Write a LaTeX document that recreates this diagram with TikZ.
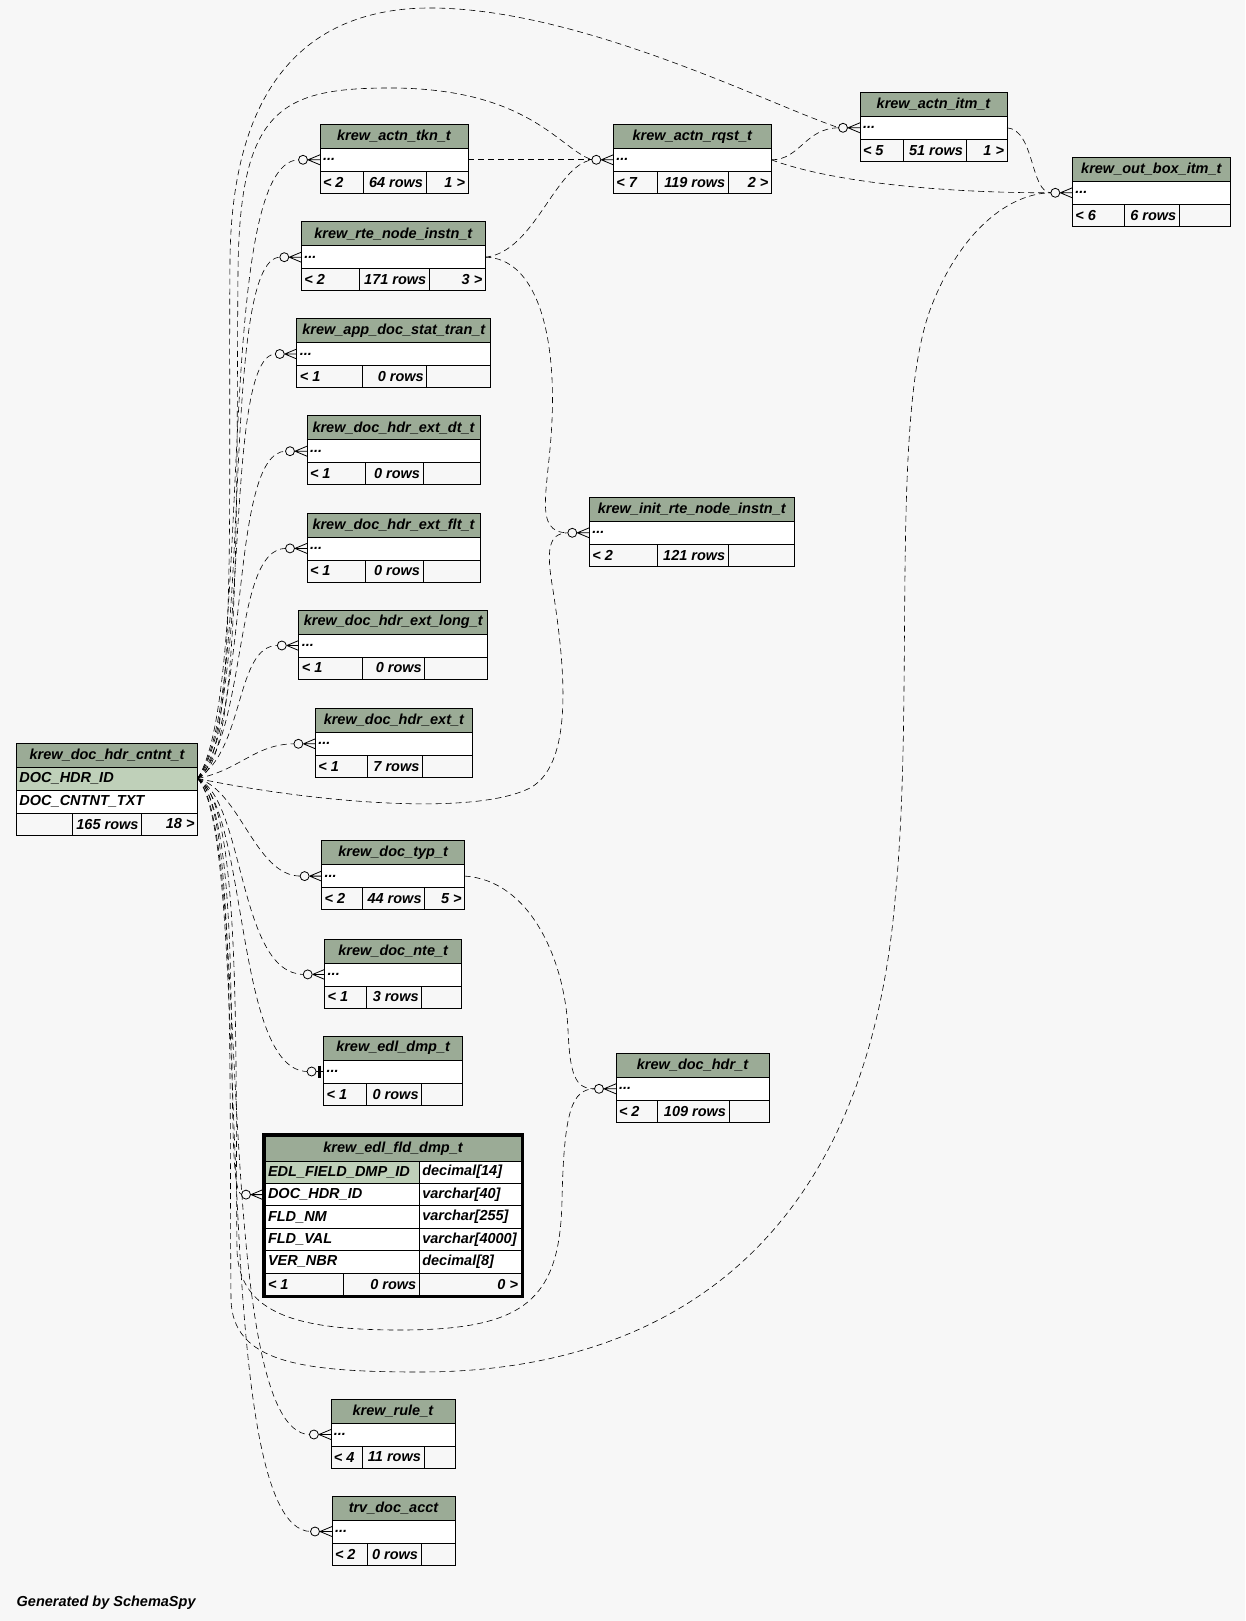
\documentclass[tikz,border=0pt]{standalone}
\usepackage{fontspec}
\setmainfont{Liberation Sans}
\usepackage{xcolor}
\definecolor{bgcol}{HTML}{F7F7F7}
\definecolor{headcol}{HTML}{9BAB96}
\definecolor{keycol}{HTML}{BFD0B9}

% one table: name, top left, width, title, footer dividers, footer texts
\newcommand{\erdtable}[9]{%
  \begin{scope}[shift={(#2)}]
    \node[tblhead, minimum width=#3] (#1-h) at (0,0) {#4};
    \node[tblrow, minimum width=#3] (#1-r) at (0,24) {};
    \node[tbltxt, anchor=west] (#1-dots) at (#1-r.west) {...};
    \node[tblfoot, minimum width=#5] (#1-fa) at (0,47) {};
    \node[tblfoot, minimum width=#6-#5] (#1-fb) at (#5,47) {};
    \node[tblfoot, minimum width=#3-#6] (#1-fc) at (#6,47) {};
    \node[tbltxt, anchor=west] (#1-la) at (#1-fa.west) {#7};
    \node[tbltxt, anchor=east] (#1-lb) at (#1-fb.east) {#8};
    \node[tbltxt, anchor=east] (#1-lc) at (#1-fc.east) {#9};
  \end{scope}}

\begin{document}
\begin{tikzpicture}[x=1pt, y=-1pt,
  tbltxt/.style={font=\fontsize{14.5}{17}\selectfont\bfseries\itshape, inner sep=3pt, outer sep=0pt},
  cell/.style={draw, line width=0.8pt, tbltxt, inner sep=0pt, anchor=north west},
  tblhead/.style={cell, fill=headcol, minimum height=24},
  tblrow/.style={cell, fill=white, minimum height=23},
  tblkey/.style={cell, fill=keycol, minimum height=23},
  tblfoot/.style={cell, fill=bgcol, minimum height=22},
  fk/.style={line width=0.6pt, dash pattern=on 6pt off 4pt},
  crowodot/.pic={
    \draw[line width=0.8pt] (-12,0) -- (0,-5) (-12,0) -- (0,0) (-12,0) -- (0,5);
    \draw[line width=0.8pt, fill=bgcol] (-17,0) circle (4.5);
  },
  zeroone/.pic={
    \draw[line width=0.8pt] (-8,0) -- (0,0);
    \draw[line width=2.5pt] (-4,-6) -- (-4,6);
    \draw[line width=0.8pt, fill=bgcol] (-12,0) circle (4.5);
  }
]
  \fill[bgcol] (0,0) rectangle (1245,1621);
  \useasboundingbox (0,0) rectangle (1245,1621);

  % Hub table on the left
  \node[tblhead, minimum width=181] (cntnt-h) at (16.5,743) {krew\_doc\_hdr\_cntnt\_t};
  \node[tblkey, minimum width=181] (cntnt-k) at (16.5,767) {};
  \node[tbltxt, anchor=west] (cntnt-kt) at (cntnt-k.west) {DOC\_HDR\_ID};
  \node[tblrow, minimum width=181] (cntnt-c) at (16.5,790) {};
  \node[tbltxt, anchor=west] (cntnt-ct) at (cntnt-c.west) {DOC\_CNTNT\_TXT};
  \node[tblfoot, minimum width=56] (cntnt-fa) at (16.5,813) {};
  \node[tblfoot, minimum width=69] (cntnt-fb) at (72.5,813) {};
  \node[tblfoot, minimum width=56] (cntnt-fc) at (141.5,813) {};
  \node[tbltxt, anchor=east] (cntnt-lb) at (cntnt-fb.east) {165 rows};
  \node[tbltxt, anchor=east] (cntnt-lc) at (cntnt-fc.east) {18 >};

  % Tables at the top
  \erdtable{tkn}{320,124.3}{148}{krew\_actn\_tkn\_t}{43}{106}{< 2}{64 rows}{1 >}
  \erdtable{rqst}{613.3,124.3}{158}{krew\_actn\_rqst\_t}{44}{115}{< 7}{119 rows}{2 >}
  \erdtable{itm}{860,92.3}{147}{krew\_actn\_itm\_t}{43}{106}{< 5}{51 rows}{1 >}
  \erdtable{outbox}{1072.3,157.3}{158}{krew\_out\_box\_itm\_t}{52}{107}{< 6}{6 rows}{}

  % Middle column
  \erdtable{rte}{301.3,221.7}{184}{krew\_rte\_node\_instn\_t}{58}{128}{< 2}{171 rows}{3 >}
  \erdtable{stat}{296.8,318.5}{194}{krew\_app\_doc\_stat\_tran\_t}{66}{130}{< 1}{0 rows}{}
  \erdtable{extdt}{307,415.7}{173}{krew\_doc\_hdr\_ext\_dt\_t}{58}{116}{< 1}{0 rows}{}
  \erdtable{extflt}{307,512.9}{173}{krew\_doc\_hdr\_ext\_flt\_t}{58}{116}{< 1}{0 rows}{}
  \erdtable{extlong}{298.8,610}{189}{krew\_doc\_hdr\_ext\_long\_t}{64}{126}{< 1}{0 rows}{}
  \erdtable{ext}{315.4,708.3}{157}{krew\_doc\_hdr\_ext\_t}{52}{107}{< 1}{7 rows}{}
  \erdtable{doctyp}{321.6,840.6}{143}{krew\_doc\_typ\_t}{41}{103}{< 2}{44 rows}{5 >}
  \erdtable{docnte}{324.7,938.9}{137}{krew\_doc\_nte\_t}{42}{97}{< 1}{3 rows}{}
  \erdtable{edldmp}{323.6,1036}{139}{krew\_edl\_dmp\_t}{43}{98}{< 1}{0 rows}{}
  \erdtable{rule}{330.9,1399}{124}{krew\_rule\_t}{31}{93}{< 4}{11 rows}{}
  \erdtable{trv}{332,1496}{123}{trv\_doc\_acct}{35}{89}{< 2}{0 rows}{}

  % Right column
  \erdtable{initrte}{589.3,497.3}{205}{krew\_init\_rte\_node\_instn\_t}{68}{139}{< 2}{121 rows}{}
  \erdtable{dochdr}{616,1053.3}{153}{krew\_doc\_hdr\_t}{41}{113}{< 2}{109 rows}{}

  % The one table shown with its columns
  \node[tblhead, minimum width=256, minimum height=25] (fld-h) at (265,1136) {krew\_edl\_fld\_dmp\_t};
  \node[tblkey, minimum width=154.3, minimum height=22.4] (fld-k) at (265,1161) {};
  \node[tbltxt, anchor=west] (fld-kt) at (fld-k.west) {EDL\_FIELD\_DMP\_ID};
  \node[tblrow, minimum width=101.7, minimum height=22.4] (fld-kk) at (419.3,1161) {};
  \node[tbltxt, anchor=west] (fld-kkt) at (fld-kk.west) {decimal[14]};
  \node[tblrow, minimum width=154.3, minimum height=22.4] (fld-d) at (265,1183.4) {};
  \node[tbltxt, anchor=west] (fld-dt) at (fld-d.west) {DOC\_HDR\_ID};
  \node[tblrow, minimum width=101.7, minimum height=22.4] (fld-dd) at (419.3,1183.4) {};
  \node[tbltxt, anchor=west] (fld-ddt) at (fld-dd.west) {varchar[40]};
  \node[tblrow, minimum width=154.3, minimum height=22.4] (fld-n) at (265,1205.8) {};
  \node[tbltxt, anchor=west] (fld-nt) at (fld-n.west) {FLD\_NM};
  \node[tblrow, minimum width=101.7, minimum height=22.4] (fld-nn) at (419.3,1205.8) {};
  \node[tbltxt, anchor=west] (fld-nnt) at (fld-nn.west) {varchar[255]};
  \node[tblrow, minimum width=154.3, minimum height=22.4] (fld-v) at (265,1228.2) {};
  \node[tbltxt, anchor=west] (fld-vt) at (fld-v.west) {FLD\_VAL};
  \node[tblrow, minimum width=101.7, minimum height=22.4] (fld-vv) at (419.3,1228.2) {};
  \node[tbltxt, anchor=west] (fld-vvt) at (fld-vv.west) {varchar[4000]};
  \node[tblrow, minimum width=154.3, minimum height=22.4] (fld-b) at (265,1250.6) {};
  \node[tbltxt, anchor=west] (fld-bt) at (fld-b.west) {VER\_NBR};
  \node[tblrow, minimum width=101.7, minimum height=22.4] (fld-bb) at (419.3,1250.6) {};
  \node[tbltxt, anchor=west] (fld-bbt) at (fld-bb.west) {decimal[8]};
  \node[tblfoot, minimum width=78.7, minimum height=22.4] (fld-fa) at (265,1273) {};
  \node[tblfoot, minimum width=75.6, minimum height=22.4] (fld-fb) at (343.7,1273) {};
  \node[tblfoot, minimum width=101.7, minimum height=22.4] (fld-fc) at (419.3,1273) {};
  \node[tbltxt, anchor=west] (fld-la) at (fld-fa.west) {< 1};
  \node[tbltxt, anchor=east] (fld-lb) at (fld-fb.east) {0 rows};
  \node[tbltxt, anchor=east] (fld-lc) at (fld-fc.east) {0 >};
  \draw[line width=2.5pt] ([shift={(-1.5,-1.5)}]fld-h.north west) rectangle ([shift={(1.5,1.5)}]fld-fc.south east);

  % From the hub to the middle column
  \draw[fk] (cntnt-k.east) .. controls (255,690) and (212,160) .. ([xshift=-21]tkn-r.west);
  \draw[fk] (cntnt-k.east) .. controls (255,700) and (218,257) .. ([xshift=-21]rte-r.west);
  \draw[fk] (cntnt-k.east) .. controls (252,712) and (222,354) .. ([xshift=-21]stat-r.west);
  \draw[fk] (cntnt-k.east) .. controls (250,725) and (228,451) .. ([xshift=-21]extdt-r.west);
  \draw[fk] (cntnt-k.east) .. controls (248,735) and (232,548) .. ([xshift=-21]extflt-r.west);
  \draw[fk] (cntnt-k.east) .. controls (245,750) and (235,645) .. ([xshift=-21]extlong-r.west);
  \draw[fk] (cntnt-k.east) .. controls (240,770) and (255,744) .. ([xshift=-21]ext-r.west);
  \draw[fk] (cntnt-k.east) .. controls (240,790) and (255,876) .. ([xshift=-21]doctyp-r.west);
  \draw[fk] (cntnt-k.east) .. controls (245,800) and (238,974) .. ([xshift=-21]docnte-r.west);
  \draw[fk] (cntnt-k.east) .. controls (248,810) and (235,1071) .. ([xshift=-16]edldmp-r.west);
  \draw[fk] (cntnt-k.east) .. controls (250,820) and (220,1194) .. ([xshift=-23]fld-d.west);
  \draw[fk] (cntnt-k.east) .. controls (252,830) and (212,1434) .. ([xshift=-21]rule-r.west);
  \draw[fk] (cntnt-k.east) .. controls (255,840) and (205,1531) .. ([xshift=-21]trv-r.west);

  % Long ones from the hub
  \draw[fk] (cntnt-k.east) .. controls (238,760) and (228,500) .. (230,260)
    .. controls (232,60) and (330,8) .. (430,8)
    .. controls (580,8) and (770,105) .. ([xshift=-21]itm-r.west);
  \draw[fk] (cntnt-k.east) .. controls (242,765) and (236,500) .. (238,270)
    .. controls (240,110) and (280,88) .. (390,88)
    .. controls (530,88) and (560,150) .. ([xshift=-21]rqst-r.west);
  \draw[fk] (cntnt-k.east) .. controls (300,800) and (470,818) .. (530,788)
    .. controls (578,762) and (562,650) .. (553,590)
    .. controls (546,550) and (548,533) .. ([xshift=-21]initrte-r.west);
  \draw[fk] (cntnt-k.east) .. controls (242,800) and (235,1050) .. (237,1250)
    .. controls (239,1315) and (300,1330) .. (400,1330)
    .. controls (525,1330) and (560,1300) .. (562,1200)
    .. controls (564,1110) and (572,1089) .. ([xshift=-21]dochdr-r.west);
  \draw[fk] (cntnt-k.east) .. controls (236,800) and (229,1080) .. (231,1300)
    .. controls (233,1362) and (300,1372) .. (420,1372)
    .. controls (660,1372) and (865,1250) .. (895,900)
    .. controls (915,700) and (890,420) .. (930,310)
    .. controls (960,230) and (1010,193) .. ([xshift=-21]outbox-r.west);

  % Between the other tables
  \draw[fk] (tkn-r.east) -- ([xshift=-21]rqst-r.west);
  \draw[fk] (rte-r.east) .. controls (535,252) and (555,165) .. ([xshift=-21]rqst-r.west);
  \draw[fk] (rte-r.east) .. controls (535,258) and (556,330) .. (552,420)
    .. controls (549,490) and (532,533) .. ([xshift=-21]initrte-r.west);
  \draw[fk] (rqst-r.east) .. controls (800,160) and (805,128) .. ([xshift=-21]itm-r.west);
  \draw[fk] (rqst-r.east) .. controls (840,185) and (960,193) .. ([xshift=-21]outbox-r.west);
  \draw[fk] (itm-r.east) .. controls (1035,130) and (1030,193) .. ([xshift=-21]outbox-r.west);
  \draw[fk] (doctyp-r.east) .. controls (530,880) and (565,960) .. (568,1030)
    .. controls (570,1075) and (575,1089) .. ([xshift=-21]dochdr-r.west);

  % Ends
  \pic at (tkn-r.west) {crowodot};
  \pic at (rte-r.west) {crowodot};
  \pic at (stat-r.west) {crowodot};
  \pic at (extdt-r.west) {crowodot};
  \pic at (extflt-r.west) {crowodot};
  \pic at (extlong-r.west) {crowodot};
  \pic at (ext-r.west) {crowodot};
  \pic at (doctyp-r.west) {crowodot};
  \pic at (docnte-r.west) {crowodot};
  \pic at (edldmp-r.west) {zeroone};
  \pic at ([xshift=-2]fld-d.west) {crowodot};
  \pic at (rule-r.west) {crowodot};
  \pic at (trv-r.west) {crowodot};
  \pic at (itm-r.west) {crowodot};
  \pic at (rqst-r.west) {crowodot};
  \pic at (initrte-r.west) {crowodot};
  \pic at (dochdr-r.west) {crowodot};
  \pic at (outbox-r.west) {crowodot};

  \node[tbltxt, anchor=base west, inner sep=0pt] (credit) at (16.7,1606) {Generated by SchemaSpy};
\end{tikzpicture}
\end{document}
